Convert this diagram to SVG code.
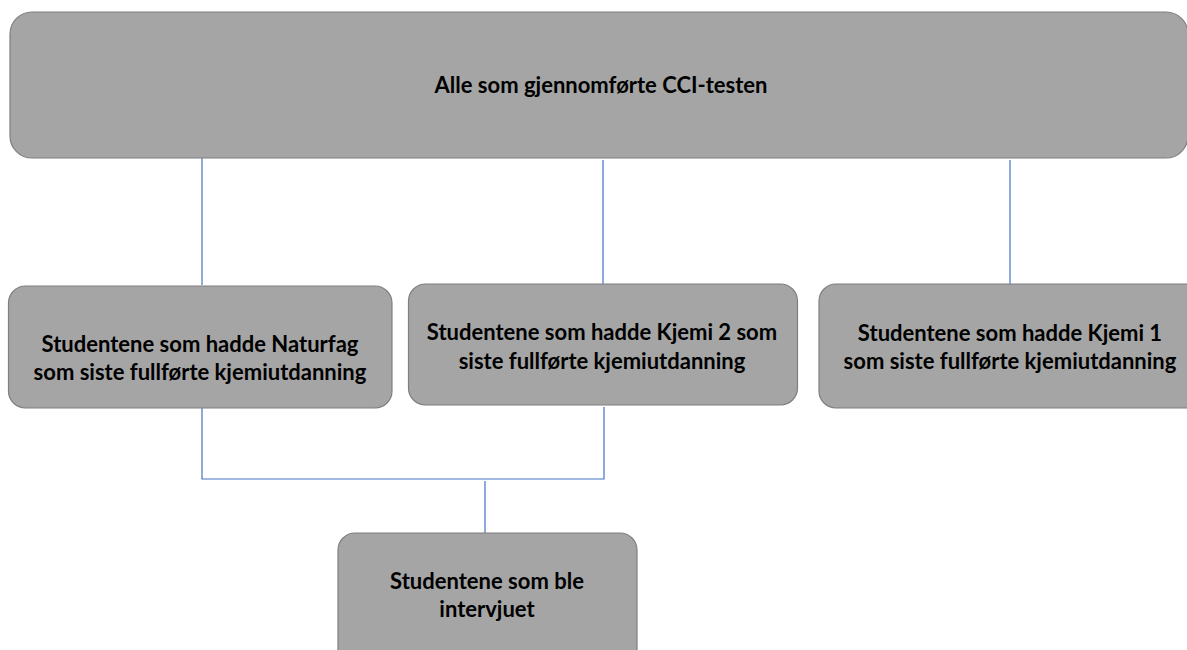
<svg xmlns="http://www.w3.org/2000/svg" width="1187" height="650" viewBox="0 0 1187 650">
<style>
.box{fill:#a5a5a5;stroke:#7f7f7f;stroke-width:1.2}
.t{font-family:Lato,"Liberation Sans",sans-serif;font-weight:bold;font-size:22px;fill:#000;text-anchor:middle}
.c{fill:none;stroke:#4472c4;stroke-width:1.2}
</style>
<rect width="1187" height="650" fill="#fff"/>
<g id="connectors">
<line class="c" x1="202" y1="158" x2="202" y2="285"/>
<line class="c" x1="603" y1="160" x2="603" y2="285"/>
<line class="c" x1="1010" y1="160" x2="1010" y2="284"/>
<polyline class="c" points="202,408 202,479 604,479 604,407"/>
<line class="c" x1="485" y1="481" x2="485" y2="534"/>
</g>
<g id="top">
<rect class="box" x="10" y="12" width="1178" height="146" rx="22"/>
<text class="t" x="601" y="93">Alle som gjennomførte CCI-testen</text>
</g>
<g id="naturfag">
<rect class="box" x="8.5" y="286" width="383.5" height="122" rx="17"/>
<text class="t" x="200" y="352">Studentene som hadde Naturfag</text>
<text class="t" x="200" y="380">som siste fullførte kjemiutdanning</text>
</g>
<g id="kjemi2">
<rect class="box" x="408.5" y="284" width="389" height="121" rx="17"/>
<text class="t" x="602" y="340">Studentene som hadde Kjemi 2 som</text>
<text class="t" x="602" y="369">siste fullførte kjemiutdanning</text>
</g>
<g id="kjemi1">
<rect class="box" x="819" y="284" width="390" height="124" rx="17"/>
<text class="t" x="1010" y="341">Studentene som hadde Kjemi 1</text>
<text class="t" x="1010" y="369">som siste fullførte kjemiutdanning</text>
</g>
<g id="intervjuet">
<rect class="box" x="338" y="533" width="299" height="140" rx="17"/>
<text class="t" x="487" y="589">Studentene som ble</text>
<text class="t" x="487" y="617">intervjuet</text>
</g>
</svg>
